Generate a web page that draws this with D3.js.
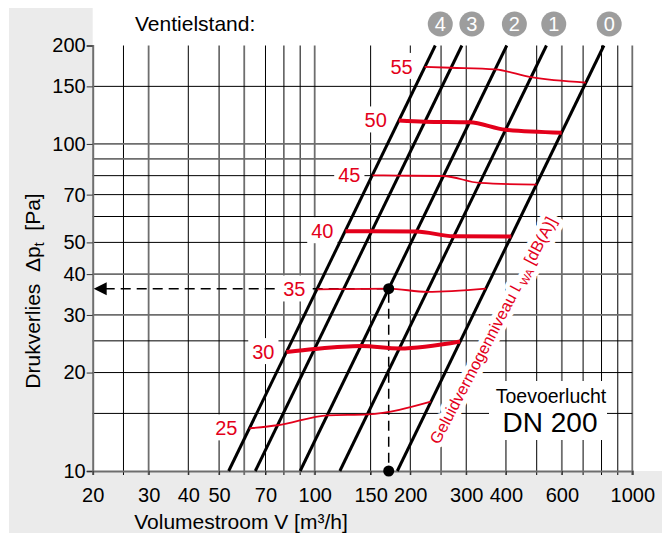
<!DOCTYPE html>
<html>
<head>
<meta charset="utf-8">
<script src="https://cdn.jsdelivr.net/npm/d3@7"></script>
<style>
  body { margin: 0; background: #fff; }
  text { font-family: "Liberation Sans", Arial, sans-serif; }
</style>
</head>
<body>
<div id="container"></div>
<script>
// values
const flowTicks = [20, 30, 40, 50, 70, 100, 150, 200, 300, 400, 600, 1000];
const pressTicks = [10, 20, 30, 40, 50, 70, 100, 150, 200];
const flowGrid = [25, 30, 40, 50, 60, 70, 80, 90, 100, 150, 200, 250, 300, 400, 500, 600, 700, 800, 900, 1000];
const pressGrid = [15, 20, 25, 30, 40, 50, 60, 70, 80, 90, 100, 150];

// valve positions (Ventielstand): flow [m3/h] at 10 Pa and at 200 Pa
const valvePositions = ["4", "3", "2", "1", "0"];
const valveFlowAt10 = [53.6, 65, 90, 120, 182];
const valveFlowAt200 = [239.7, 290.7, 402.5, 536.7, 813.9];

// sound power curves, one point per valve position (4 -> 0)
const soundLevels = [55, 50, 45, 40, 35, 30, 25];
const soundFlow = [
  [222, 269, 370, 480, 714],
  [184, 222, 307, 399, 599],
  [152, 184, 254, 331, 499],
  [125, 151, 209, 274, 416],
  [102, 123, 171, 226, 346],
  [81.5, 99.8, 140, 185, 287],
  [62.3, 76.4, 110, 147, 232]
];
const soundPress = [
  [172, 171, 169, 160, 154],
  [118, 117, 116.5, 110.5, 108.3],
  [80.2, 80, 79.8, 76, 75.1],
  [54.1, 54.1, 54, 52.2, 52.1],
  [35.9, 36, 36.1, 35.3, 36.1],
  [23.1, 23.6, 24.1, 23.7, 24.9],
  [13.5, 13.8, 14.8, 14.9, 16.3]
];

// example reading
const exampleFlow = 171;
const examplePress = 36.1;

const W = 668, H = 533;
const RED = "#e3001b";
const grayFlow = [30, 60, 100, 250, 400, 600, 1000];
const grayPress = [30, 40, 90, 100];
const valveLabelNudge = [5, 10, 7.6, 7.3, 5.3];

const svg = d3.select("#container").append("svg")
  .attr("width", W).attr("height", H);

const x = d3.scaleLog().domain([20, 1000]).range([92.7, 632.3]);
const y = d3.scaleLog().domain([10, 200]).range([471, 45.5]);

// grey frame
svg.append("path")
  .attr("d", `M9,8H${x(20)}V${y(10)}H662V533H9Z`)
  .attr("fill", "#ebebeb");

// grid
const grid = svg.append("g");
grid.selectAll(".vg").data(flowGrid).join("line")
  .attr("x1", d => x(d)).attr("x2", d => x(d))
  .attr("y1", y(200)).attr("y2", y(10) + 4)
  .attr("stroke", d => grayFlow.includes(d) ? "#6e6e6e" : "#000")
  .attr("stroke-width", d => grayFlow.includes(d) ? 1.8 : 1);
grid.selectAll(".hg").data(pressGrid).join("line")
  .attr("x1", x(20)).attr("x2", x(1000))
  .attr("y1", d => y(d)).attr("y2", d => y(d))
  .attr("stroke", d => grayPress.includes(d) ? "#6e6e6e" : "#000")
  .attr("stroke-width", d => grayPress.includes(d) ? 1.8 : 1);

// axes
const yAxis = svg.append("g")
  .attr("transform", `translate(${x(20)},0)`)
  .call(d3.axisLeft(y).tickValues(pressTicks).tickFormat(d3.format("d")).tickSize(6).tickPadding(1));
const xAxis = svg.append("g")
  .attr("transform", `translate(0,${y(10)})`)
  .call(d3.axisBottom(x).tickValues(flowTicks).tickFormat(d3.format("d")).tickSize(4).tickPadding(12.5));
[yAxis, xAxis].forEach(a => {
  a.select(".domain").attr("stroke", "#6e6e6e").attr("stroke-width", 2);
  a.selectAll(".tick line").attr("stroke", "#333");
  a.selectAll("text").attr("font-size", 20).attr("fill", "#000")
    .style("font-family", '"Liberation Sans", Arial, sans-serif');
});

// dashed reading line with arrow
const ex = x(exampleFlow), ey = y(examplePress);
svg.append("path")
  .attr("d", `M${x(20) + 12},${ey}H${ex}V${y(10)}`)
  .attr("fill", "none").attr("stroke", "#000").attr("stroke-width", 1.5)
  .attr("stroke-dasharray", "10,6");
svg.append("path")
  .attr("d", `M${x(20) + 1},${ey}l13,-6.5v13Z`)
  .attr("fill", "#000");

// Toevoerlucht box
svg.append("rect").attr("x", 489).attr("y", 381).attr("width", 118).attr("height", 59).attr("fill", "#fff");
svg.append("text").attr("x", 551).attr("y", 403).attr("text-anchor", "middle")
  .attr("font-size", 19.5).text("Toevoerlucht");
svg.append("text").attr("x", 550).attr("y", 432).attr("text-anchor", "middle")
  .attr("font-size", 28).text("DN 200");

// rotated label beside valve line 0
const rot = svg.append("text")
  .attr("transform", "translate(498,333) rotate(-62.3)")
  .attr("text-anchor", "middle").attr("font-size", 16.3).attr("fill", RED)
  .attr("stroke", "#fff").attr("stroke-width", 10).attr("stroke-linejoin", "round")
  .style("paint-order", "stroke");
rot.append("tspan").text("Geluidvermogenniveau L");
rot.append("tspan").attr("font-size", 11).attr("dy", 3.5).text("WA");
rot.append("tspan").attr("dy", -3.5).text(" [dB(A)]");

// sound level labels with white boxes
const labels = svg.append("g");
soundLevels.forEach((lv, i) => {
  const t = labels.append("text")
    .attr("x", x(soundFlow[i][0]) - 12).attr("y", y(soundPress[i][0]))
    .attr("dy", "0.35em").attr("text-anchor", "end")
    .attr("font-size", 20).attr("fill", RED).text(lv);
  const b = t.node().getBBox();
  labels.insert("rect", "text").attr("x", b.x - 4).attr("y", b.y - 3)
    .attr("width", b.width + 8).attr("height", b.height + 4).attr("fill", "#fff");
});

// valve characteristic lines
svg.append("g").selectAll("line").data(valvePositions).join("line")
  .attr("x1", (d, i) => x(valveFlowAt10[i])).attr("y1", y(10))
  .attr("x2", (d, i) => x(valveFlowAt200[i])).attr("y2", y(200))
  .attr("stroke", "#000").attr("stroke-width", 3);

// sound curves
const curve = d3.line().x(d => x(d[0])).y(d => y(d[1])).curve(d3.curveMonotoneX);
svg.append("g").selectAll("path").data(soundLevels).join("path")
  .attr("d", (d, i) => curve(d3.zip(soundFlow[i], soundPress[i])))
  .attr("fill", "none").attr("stroke", RED)
  .attr("stroke-width", d => d % 10 === 0 ? 4 : 1.8);

// reading dots
svg.append("circle").attr("cx", ex).attr("cy", ey).attr("r", 5.5).attr("fill", "#000");
svg.append("circle").attr("cx", ex).attr("cy", y(10)).attr("r", 5.5).attr("fill", "#000");

// valve position badges
svg.append("text").attr("x", 135).attr("y", 31).attr("font-size", 21).text("Ventielstand:");
const badges = svg.append("g").selectAll("g").data(valvePositions).join("g")
  .attr("transform", (d, i) => `translate(${x(valveFlowAt200[i]) + valveLabelNudge[i]},24)`);
badges.append("circle").attr("r", 12.5).attr("fill", "#9d9d9d");
badges.append("text").attr("text-anchor", "middle").attr("dy", "0.36em")
  .attr("font-size", 20).attr("fill", "#fff").text(d => d);

// axis titles
const yt = svg.append("text")
  .attr("transform", "translate(40,291) rotate(-90)")
  .attr("text-anchor", "middle").attr("font-size", 21).style("white-space", "pre");
yt.append("tspan").text("Drukverlies  \u0394p");
yt.append("tspan").attr("font-size", 14).attr("dy", 4).text("t");
yt.append("tspan").attr("dy", -4).text("  [Pa]");

svg.append("text").attr("x", 241).attr("y", 529).attr("text-anchor", "middle")
  .attr("font-size", 21).text("Volumestroom V [m\u00b3/h]");
</script>
</body>
</html>
